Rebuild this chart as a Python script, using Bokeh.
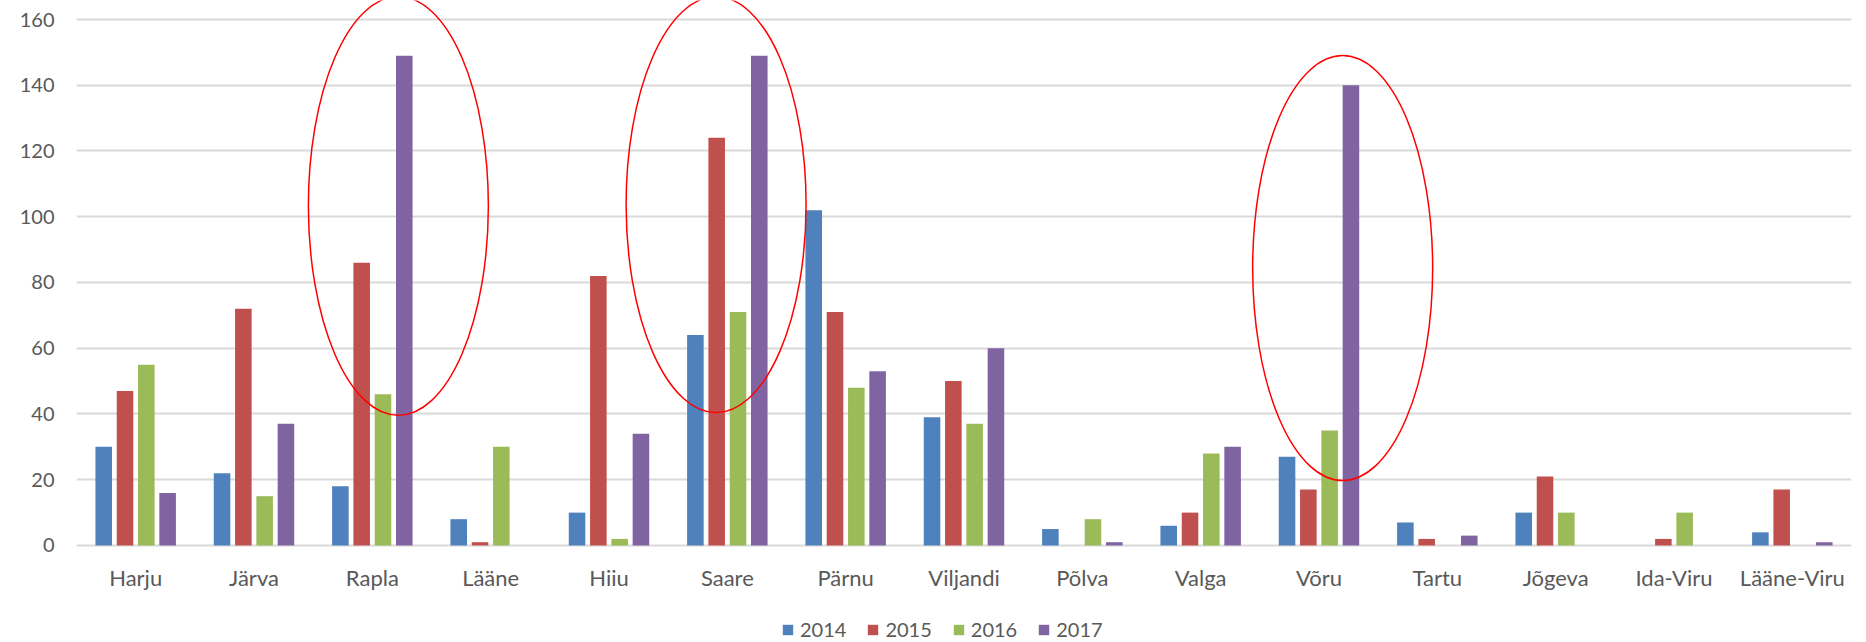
from bokeh.plotting import figure
from bokeh.models import ColumnDataSource, Range1d, FixedTicker, Legend, LegendItem
from bokeh.core.properties import value
from bokeh.transform import dodge
from bokeh.embed import file_html
from bokeh.resources import INLINE

counties = ["Harju", "Järva", "Rapla", "Lääne", "Hiiu", "Saare", "Pärnu", "Viljandi",
            "Põlva", "Valga", "Võru", "Tartu", "Jõgeva", "Ida-Viru", "Lääne-Viru"]
years = ["2014", "2015", "2016", "2017"]
v2014 = [30, 22, 18, 8, 10, 64, 102, 39, 5, 6, 27, 7, 10, 0, 4]
v2015 = [47, 72, 86, 1, 82, 124, 71, 50, 0, 10, 17, 2, 21, 2, 17]
v2016 = [55, 15, 46, 30, 2, 71, 48, 37, 8, 28, 35, 0, 10, 10, 0]
v2017 = [16, 37, 149, 0, 34, 149, 53, 60, 1, 30, 140, 3, 0, 0, 1]
y_ticks = [0, 20, 40, 60, 80, 100, 120, 140, 160]

# annotation ellipses (highlighted counties)
ell_cats = ["Rapla", "Saare", "Võru"]
ell_y = [103.3, 103.7, 84.4]

colors = ["#4F81BD", "#C0504D", "#9BBB59", "#8064A2"]
offsets = [-0.27, -0.09, 0.09, 0.27]
ell_off = [0.22, -0.095, 0.20]
ell_h = [419, 416, 425]

FONT = "Lato"
TXT = "#595959"

src = ColumnDataSource(dict(county=counties, y2014=v2014, y2015=v2015, y2016=v2016, y2017=v2017))

# frame spans the full page height; 0 sits where the reference baseline is
p = figure(x_range=counties, y_range=Range1d(-29.51, 165.78), width=1866, height=642,
           output_backend="svg", toolbar_location=None, x_axis_location=None,
           min_border_left=76, min_border_right=15, min_border_top=0, min_border_bottom=0)
p.outline_line_color = None
p.background_fill_color = "white"
p.xgrid.grid_line_color = None
p.ygrid.grid_line_color = "#d9d9d9"
p.ygrid.grid_line_width = 2
p.yaxis.ticker = FixedTicker(ticks=y_ticks)
p.yaxis.axis_line_color = None
p.yaxis.major_tick_line_color = None
p.yaxis.minor_tick_line_color = None
p.yaxis.major_tick_out = 0
p.yaxis.major_tick_in = 0
p.yaxis.major_label_text_font = FONT
p.yaxis.major_label_text_font_size = "20px"
p.yaxis.major_label_text_color = TXT
p.yaxis.major_label_standoff = 22

renderers = []
for i, yr in enumerate(years):
    r = p.vbar(x=dodge("county", offsets[i], range=p.x_range), top="y" + yr, width=0.14,
               source=src, fill_color=colors[i], line_color=None)
    renderers.append(r)

# category labels
p.text(x="county", y=-9.8, text="county", source=src, text_align="center",
       text_baseline="middle", text_font=value(FONT), text_font_size="22px", text_color=TXT)

for c, y, off, h in zip(ell_cats, ell_y, ell_off, ell_h):
    es = ColumnDataSource(dict(c=[c], y=[y]))
    p.ellipse(x=dodge("c", off, range=p.x_range), y="y", width=180, height=h,
              width_units="screen", height_units="screen", source=es,
              fill_color=None, line_color="#ff0000", line_width=1.5)

legend = Legend(items=[LegendItem(label=yr, renderers=[r]) for yr, r in zip(years, renderers)],
                orientation="horizontal", location=(705, 1),
                glyph_width=13, glyph_height=13, label_standoff=6, spacing=20,
                label_text_font=FONT, label_text_font_size="20px", label_text_color=TXT,
                padding=0, margin=0, border_line_color=None, background_fill_alpha=0)
p.add_layout(legend, "center")

open("out.html", "w").write(file_html(p, INLINE))
